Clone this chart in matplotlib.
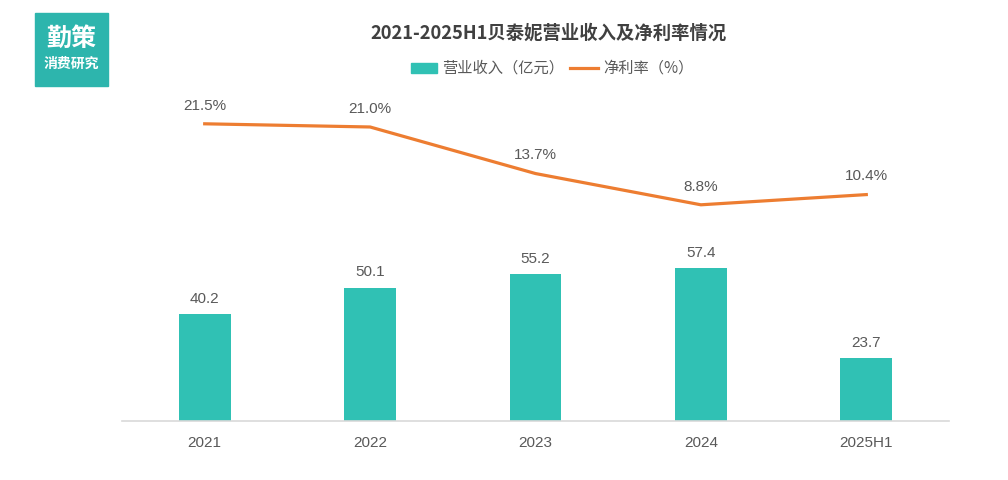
import matplotlib
matplotlib.use("Agg")
import matplotlib.pyplot as plt
from matplotlib.patches import Rectangle
from matplotlib.lines import Line2D

categories = ["2021", "2022", "2023", "2024", "2025H1"]
revenue = [40.2, 50.1, 55.2, 57.4, 23.7]
net_margin = [21.5, 21.0, 13.7, 8.8, 10.4]

title = "2021-2025H1贝泰妮营业收入及净利率情况"
legend_bar = "营业收入（亿元）"
legend_line = "净利率（%）"

CJK = ["Noto Sans CJK SC", "DejaVu Sans"]
NUM = ["Liberation Sans Narrow", "Liberation Sans", "DejaVu Sans"]
plt.rcParams['font.family'] = CJK

teal = "#30c1b4"
orange = "#ed7d31"
gray = "#595959"

fig = plt.figure(figsize=(10.08, 4.8), dpi=100)
ax = fig.add_axes([122/1008, 1-421/480, (949-122)/1008, (421-90)/480])
x = list(range(len(categories)))
bars = ax.bar(x, revenue, width=0.314, color=teal, zorder=2)
ax.set_xlim(-0.5, 4.5)
ax.set_ylim(0, 124.4)
ax.set_yticks([])
for s in ["top", "left", "right"]:
    ax.spines[s].set_visible(False)
ax.spines["bottom"].set_color("#d9d9d9")
ax.spines["bottom"].set_linewidth(1.2)
ax.set_xticks(x)
ax.set_xticklabels(categories, family=NUM, fontsize=11, color=gray)
ax.tick_params(axis="x", length=0, pad=11)
for xi, v in zip(x, revenue):
    ax.annotate(f"{v:.1f}", (xi, v), xytext=(0, 6), textcoords="offset points",
                ha="center", va="bottom", family=NUM, fontsize=11, color=gray)

ax2 = ax.twinx()
ax2.plot(x, net_margin, color=orange, linewidth=2.3, zorder=3)
ax2.set_ylim(-25.1, 26.8)
ax2.set_yticks([])
for s in ["top", "left", "right", "bottom"]:
    ax2.spines[s].set_visible(False)
for xi, v in zip(x, net_margin):
    ax2.annotate(f"{v:.1f}%", (xi, v), xytext=(0, 8), textcoords="offset points",
                 ha="center", va="bottom", family=NUM, fontsize=11, color=gray)

fig.text(549/1008, 1-33/480, title, ha="center", va="center", fontsize=13.2,
         fontweight="bold", color="#404040", family=CJK)

# legend
fig.patches.append(Rectangle((411/1008, 1-73/480), 26/1008, 10/480,
                             transform=fig.transFigure, color=teal))
fig.text(442/1008, 1-68/480, legend_bar, ha="left", va="center", fontsize=11,
         color=gray, family=CJK)
fig.lines.append(Line2D([570/1008, 598/1008], [1-68/480, 1-68/480],
                        transform=fig.transFigure, color=orange, linewidth=2.3))
fig.text(603/1008, 1-68/480, legend_line, ha="left", va="center", fontsize=11,
         color=gray, family=CJK)

# logo
fig.patches.append(Rectangle((35/1008, 1-86/480), 73/1008, 73/480,
                             transform=fig.transFigure, color="#2db5ad"))
fig.text(71.5/1008, 1-39/480, "勤策", ha="center", va="center", fontsize=18,
         fontweight="bold", color="white", family=CJK)
fig.text(71.5/1008, 1-64/480, "消费研究", ha="center", va="center", fontsize=10,
         fontweight="bold", color="white", family=CJK)

fig.savefig("out.png", dpi=100, facecolor="white")
